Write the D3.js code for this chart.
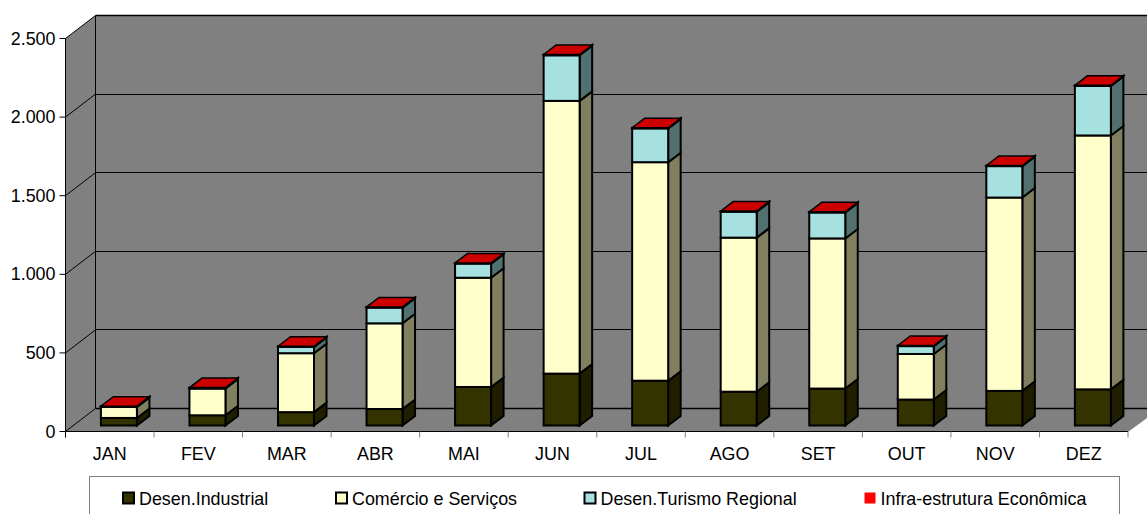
<!DOCTYPE html>
<html><head><meta charset="utf-8">
<script src="https://cdn.jsdelivr.net/npm/d3@7"></script>
<style>html,body{margin:0;padding:0;background:#fff;overflow:hidden}svg{display:block}text{font-family:"Liberation Sans",Arial,sans-serif;fill:#000}</style>
</head><body><svg id="c" width="1147" height="514"></svg>
<script>
const months=["JAN","FEV","MAR","ABR","MAI","JUN","JUL","AGO","SET","OUT","NOV","DEZ"];
const seriesNames=["Desen.Industrial","Comércio e Serviços","Desen.Turismo Regional","Infra-estrutura Econômica"];
const industrial=[48,65,85,105,245,330,285,215,235,165,220,230];
const comercio=[70,170,375,545,695,1735,1390,980,955,290,1230,1615];
const turismo=[2,3,40,100,90,290,215,165,165,50,200,315];
const infra=[3,3,4,4,4,5,4,4,4,4,4,4];
const yTicks=[0,500,1000,1500,2000,2500];

const front=["#333300","#FFFFCC","#A6E0E0","#CC0000"];
const legendFill=["#333300","#FFFFCC","#A6E0E0","#FF0000"];
const side=["#1F1F00","#808060","#537070","#800000"];
const all=[industrial,comercio,turismo,infra];
const svg=d3.select("#c");
const L=65.5,R=1128,B=431.5,T=38.5,DX=30,DY=23,W=1147;
const x=d3.scaleBand().domain(months).range([L,R]);
const y=d3.scaleLinear().domain([0,2500]).range([B,T]);
const fmt=v=>d3.format(",")(v).replace(/,/g,".");
const poly=(p,f,s,sw)=>svg.append("polygon").attr("points",p.map(a=>a.join(",")).join(" ")).attr("fill",f).attr("stroke",s||"none").attr("stroke-width",sw||0).attr("stroke-linejoin","miter");
const line=(a,b,c,w)=>svg.append("line").attr("x1",a).attr("y1",b[0]).attr("x2",b[1]).attr("y2",b[2]).attr("stroke",c).attr("stroke-width",w);
// walls
poly([[L,T],[L+DX,T-DY],[W,T-DY],[W,B-DY+5],[R+19,B-14],[R,B],[L,B]],"#808080");
yTicks.forEach(v=>{
  const yy=y(v);
  line(L,[yy,L+DX,yy-DY],"#000",1);
  line(L+DX,[Math.round(yy-DY-.5)+.5,W,Math.round(yy-DY-.5)+.5],"#000",v==0||v==2500?1.5:1);
  line(L-6,[yy,L,yy],"#000",1);
  svg.append("text").attr("x",L-10).attr("y",yy+6).attr("text-anchor","end").attr("font-size",17.9).text(fmt(v));
});
line(L,[T,L,B],"#000",1);
line(L+DX,[T-DY,L+DX,B-DY],"#000",1);
line(L,[B,R,B],"#000",1);
line(R,[B,R+19,B-14],"#808080",1);
months.forEach(m=>line(x(m),[B,x(m),B+6],"#808080",1));
line(L,[B,L,B+6],"#000",1);
line(R,[B,R,B+6],"#808080",1);
months.forEach(m=>svg.append("text").attr("x",x(m)+x.step()/2).attr("y",460).attr("text-anchor","middle").attr("font-size",17.9).text(m));
// bars
const bw=36,dx=12.5,dy=9.5,base=6;
months.forEach((m,i)=>{
  const xl=x(m)+x.step()*0.4, xr=xl+bw;
  let cum=0;
  all.forEach((s,k)=>{
    const y0=y(cum)-base, y1=y(cum+s[i])-base;
    poly([[xr,y0],[xr+dx,y0-dy],[xr+dx,y1-dy],[xr,y1]],side[k],"#000",2);
    svg.append("rect").attr("x",xl).attr("y",y1).attr("width",bw).attr("height",y0-y1).attr("fill",front[k]).attr("stroke","#000").attr("stroke-width",2);
    cum+=s[i];
  });
  const yt=y(cum)-base;
  poly([[xl,yt],[xl+dx,yt-dy],[xr+dx,yt-dy],[xr,yt]],front[3],"#000",1.5);
});
// legend
svg.append("rect").attr("x",89.5).attr("y",476.5).attr("width",1030).attr("height",50).attr("fill","#fff").attr("stroke","#808080").attr("stroke-width",1);
const lx=[123,336,584.5,864.5];
seriesNames.forEach((n,i)=>{
  svg.append("rect").attr("x",lx[i]).attr("y",492.5).attr("width",11).attr("height",11).attr("fill",legendFill[i]).attr("stroke","#000").attr("stroke-width",i==3?0:2);
  svg.append("text").attr("x",lx[i]+16).attr("y",505).attr("font-size",17.9).text(n);
});
</script></body></html>
